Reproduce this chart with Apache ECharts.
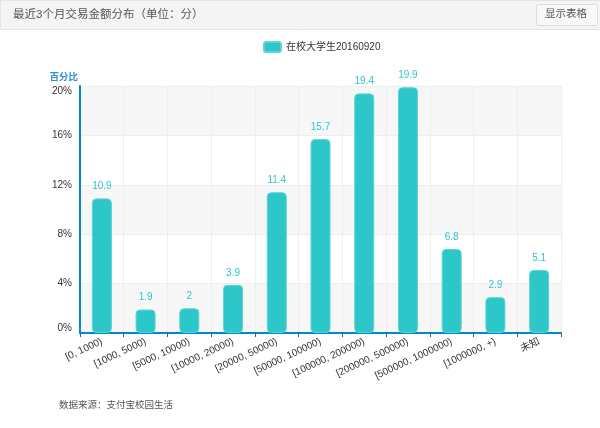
<!DOCTYPE html>
<html><head><meta charset="utf-8">
<script src="https://cdn.jsdelivr.net/npm/echarts@6/dist/echarts.min.js"></script>
<style>html,body{margin:0;padding:0;background:#fff}#c{width:600px;height:428px}</style>
</head><body><div id="c"></div>
<script>
const categories = ["[0, 1000)", "[1000, 5000)", "[5000, 10000)", "[10000, 20000)", "[20000, 50000)", "[50000, 100000)", "[100000, 200000)", "[200000, 500000)", "[500000, 1000000)", "[1000000, +)", "未知"];
const seriesName = "在校大学生20160920";
const values = [10.9, 1.9, 2, 3.9, 11.4, 15.7, 19.4, 19.9, 6.8, 2.9, 5.1];
const yTicks = {min: 0, max: 20, interval: 4};
const titleText = "最近3个月交易金额分布（单位：分）";
const buttonText = "显示表格";
const sourceText = "数据来源：支付宝校园生活";

const FONT = "Helvetica, 'Liberation Sans', Arial, 'Noto Sans CJK SC', sans-serif";
const TEAL = '#2ec7c9';
const chart = echarts.init(document.getElementById('c'));
chart.setOption({
  animation: false,
  textStyle: {fontFamily: FONT},
  graphic: [
    {type: 'rect', left: 0, top: 0, shape: {width: 600, height: 29}, style: {fill: '#f4f4f4', stroke: '#e4e4e4', lineWidth: 1}, silent: true},
    {type: 'text', left: 13, top: 9, style: {text: titleText, fill: '#555', font: '11.5px ' + FONT}},
    {type: 'rect', left: 536, top: 4, shape: {width: 61, height: 21, r: 2}, style: {fill: '#f8f8f8', stroke: '#dcdcdc', lineWidth: 1}},
    {type: 'text', left: 545, top: 9, style: {text: buttonText, fill: '#555', font: '10.5px ' + FONT}},
    {type: 'text', left: 59, top: 401, style: {text: sourceText, fill: '#555', font: '9.5px ' + FONT}}
  ],
  legend: {
    top: 36, left: 258,
    itemWidth: 17, itemHeight: 10, itemGap: 5,
    icon: 'roundRect',
    textStyle: {color: '#333', fontSize: 10, fontFamily: FONT},
    data: [seriesName]
  },
  grid: {left: 80, right: 39, top: 86, bottom: 95, containLabel: false},
  xAxis: {
    type: 'category',
    data: categories,
    boundaryGap: true,
    axisLine: {lineStyle: {color: '#008acd', width: 2}},
    axisTick: {show: true, length: 4, lineStyle: {color: '#555'}},
    axisLabel: {rotate: 25, color: '#333', fontSize: 10, margin: 8, interval: 0, fontFamily: FONT},
    splitLine: {show: true, lineStyle: {color: '#eee'}}
  },
  yAxis: {
    type: 'value',
    min: yTicks.min, max: yTicks.max, interval: yTicks.interval,
    name: '百分比',
    nameLocation: 'end',
    nameGap: 4,
    nameTextStyle: {color: '#2a93d5', fontSize: 9.5, align: 'right', padding: [0, 2, 0, 0], fontWeight: 'bold'},
    axisLine: {show: true, lineStyle: {color: '#008acd', width: 2}},
    axisTick: {show: false},
    axisLabel: {formatter: '{value}%', color: '#333', fontSize: 10, margin: 8, verticalAlignMinLabel: 'bottom', verticalAlignMaxLabel: 'top'},
    splitLine: {show: true, lineStyle: {color: '#eee'}},
    splitArea: {show: true, areaStyle: {color: ['#f7f7f7', '#ffffff']}}
  },
  series: [{
    name: seriesName,
    type: 'bar',
    data: values,
    barWidth: 20,
    itemStyle: {color: TEAL, borderRadius: 4, borderColor: '#5dd3d5', borderWidth: 1},
    label: {show: true, position: 'top', distance: 7, color: TEAL, fontSize: 10, fontFamily: FONT}
  }]
});
</script></body></html>
